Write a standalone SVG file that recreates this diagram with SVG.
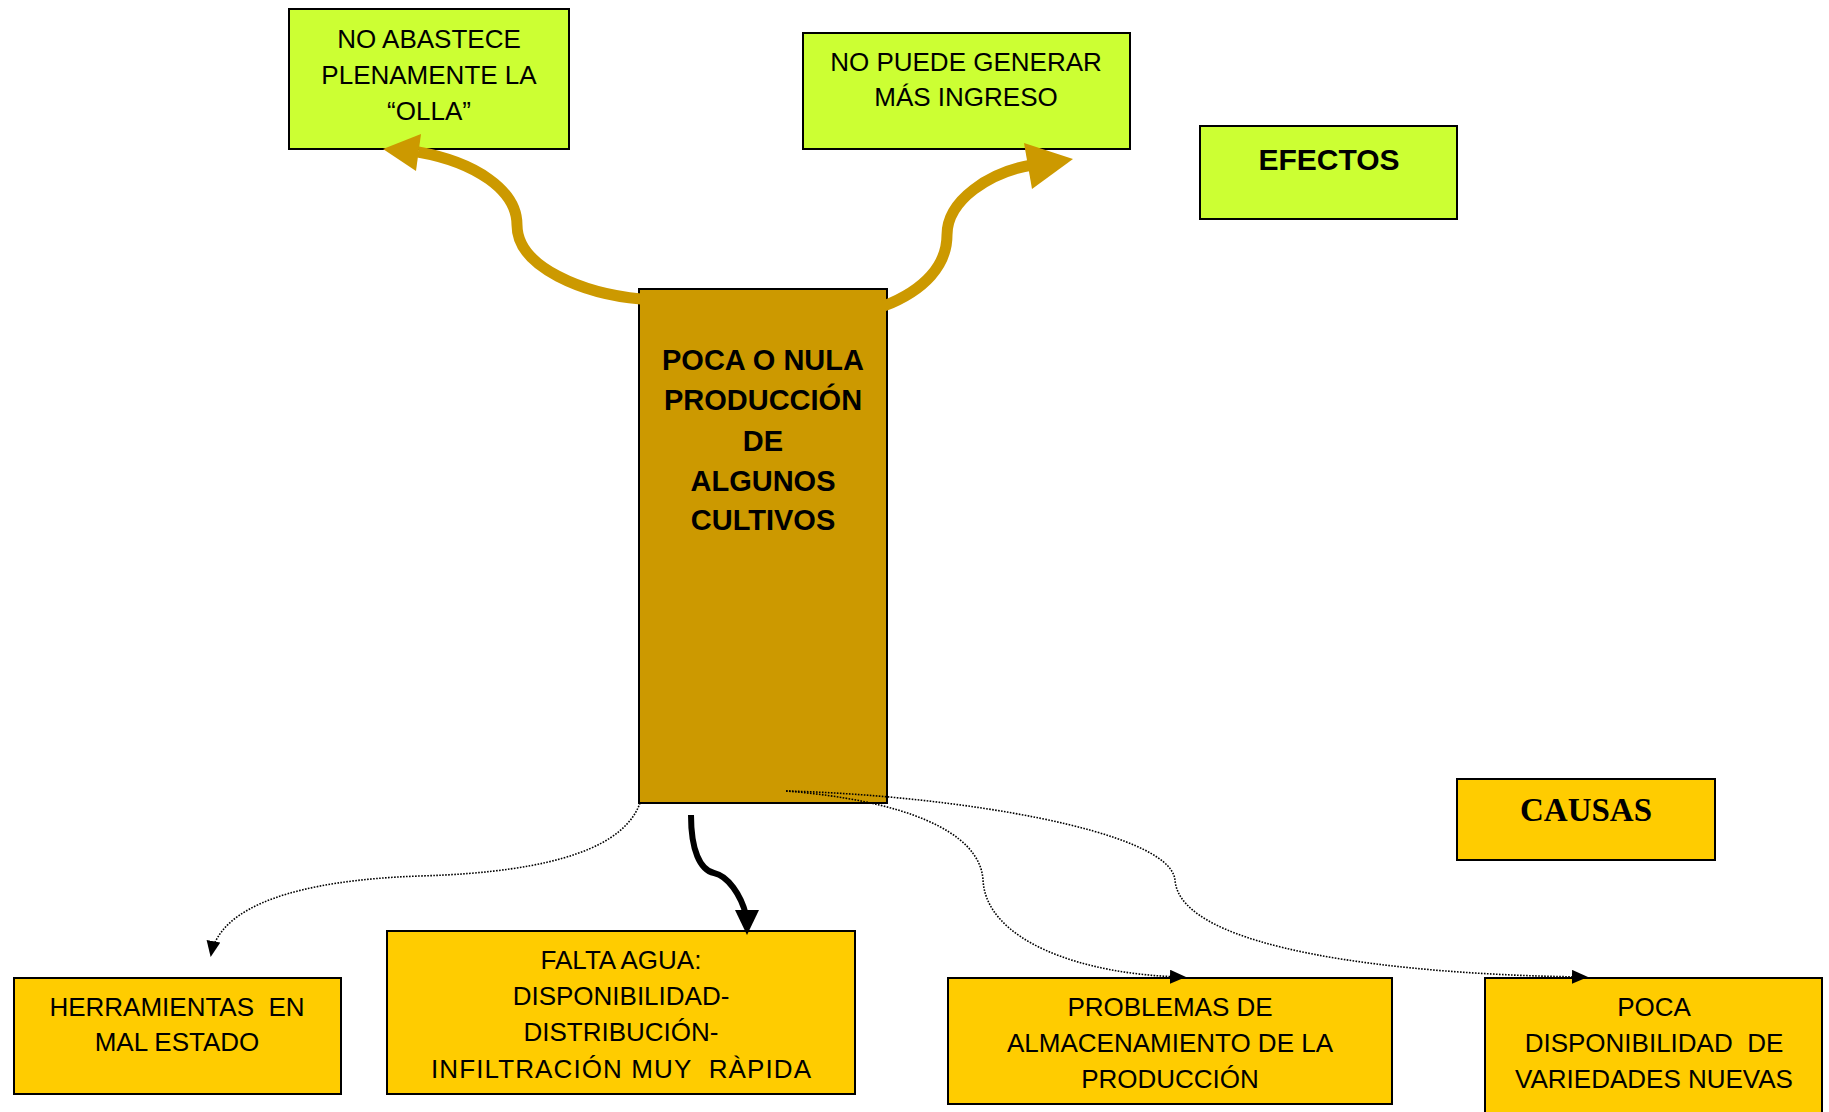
<svg xmlns="http://www.w3.org/2000/svg" width="1829" height="1112" viewBox="0 0 1829 1112">
<style>
.box{stroke:#000;stroke-width:2}
.eff{fill:#CCFF33}
.cau{fill:#FFCC00}
.main{fill:#CC9900}
.t{font-family:"Liberation Sans",Arial,sans-serif;font-size:26px;fill:#000;text-anchor:middle;white-space:pre}
.tb{font-family:"Liberation Sans",Arial,sans-serif;font-size:29px;font-weight:bold;fill:#000;text-anchor:middle;white-space:pre}
.ts{font-family:"Liberation Serif","Times New Roman",serif;font-size:33px;font-weight:bold;fill:#000;text-anchor:middle}
.dot{fill:none;stroke:#000;stroke-width:1.6;stroke-dasharray:1.6 1.4}
.gold{fill:none;stroke:#CC9900;stroke-width:11}
</style>
<defs>
<marker id="ah" markerUnits="userSpaceOnUse" markerWidth="16" markerHeight="14" refX="14" refY="7" orient="auto">
<path d="M0,0 L16,7 L0,14 Z" fill="#000"/>
</marker>
</defs>
<rect width="1829" height="1112" fill="#fff"/>
<g id="efecto-olla">
<rect class="box eff" x="289" y="9" width="280" height="140"/>
<text class="t" x="429" y="48">NO ABASTECE</text>
<text class="t" x="429" y="84">PLENAMENTE LA</text>
<text class="t" x="429" y="120">“OLLA”</text>
</g>
<g id="efecto-ingreso">
<rect class="box eff" x="803" y="33" width="327" height="116"/>
<text class="t" x="966" y="71">NO PUEDE GENERAR</text>
<text class="t" x="966" y="106">MÁS INGRESO</text>
</g>
<g id="efectos">
<rect class="box eff" x="1200" y="126" width="257" height="93"/>
<text class="tb" x="1329" y="170" style="font-size:30px">EFECTOS</text>
</g>
<g id="problema">
<rect class="box main" x="639" y="289" width="248" height="514"/>
<text class="tb" x="763" y="370">POCA O NULA</text>
<text class="tb" x="763" y="410">PRODUCCIÓN</text>
<text class="tb" x="763" y="451">DE</text>
<text class="tb" x="763" y="491">ALGUNOS</text>
<text class="tb" x="763" y="530">CULTIVOS</text>
</g>
<g id="causas">
<rect class="box cau" x="1457" y="779" width="258" height="81"/>
<text class="ts" x="1586" y="821">CAUSAS</text>
</g>
<g id="causa-herramientas">
<rect class="box cau" x="14" y="978" width="327" height="116"/>
<text class="t" x="177" y="1016">HERRAMIENTAS  EN</text>
<text class="t" x="177" y="1051">MAL ESTADO</text>
</g>
<g id="causa-agua">
<rect class="box cau" x="387" y="931" width="468" height="163"/>
<text class="t" x="621" y="969">FALTA AGUA:</text>
<text class="t" x="621" y="1005">DISPONIBILIDAD-</text>
<text class="t" x="621" y="1041">DISTRIBUCIÓN-</text>
<text class="t" x="621" y="1078" textLength="380" lengthAdjust="spacing">INFILTRACIÓN MUY  RÀPIDA</text>
</g>
<g id="causa-almacenamiento">
<rect class="box cau" x="948" y="978" width="444" height="126"/>
<text class="t" x="1170" y="1016">PROBLEMAS DE</text>
<text class="t" x="1170" y="1052">ALMACENAMIENTO DE LA</text>
<text class="t" x="1170" y="1088">PRODUCCIÓN</text>
</g>
<g id="causa-variedades">
<rect class="box cau" x="1485" y="978" width="337" height="140"/>
<text class="t" x="1654" y="1016">POCA</text>
<text class="t" x="1654" y="1052">DISPONIBILIDAD  DE</text>
<text class="t" x="1654" y="1088">VARIEDADES NUEVAS</text>
</g>
<g id="connectors">
<path class="gold" d="M641,299 C585,294 517,268 517,225 C517,190 475,162 418,152"/>
<polygon points="383,149 421,134 416,171" fill="#CC9900"/>
<path class="gold" d="M884,306 C925,290 947,265 947,235 C947,200 990,172 1032,165"/>
<polygon points="1073,159 1024,143 1032,189" fill="#CC9900"/>
<path d="M691,815 C691,850 700,870 714,873 C728,876 741,895 746,915" fill="none" stroke="#000" stroke-width="6"/>
<polygon points="747,935 735,910 759,910" fill="#000"/>
<path class="dot" d="M640,803 C625,845 560,872 420,876 C300,880 220,905 211,955" marker-end="url(#ah)"/>
<path class="dot" d="M786,791 C900,800 980,830 983,880 C986,940 1080,975 1184,977" marker-end="url(#ah)"/>
<path class="dot" d="M786,791 C950,795 1170,830 1175,880 C1180,950 1400,975 1586,977" marker-end="url(#ah)"/>
</g>
</svg>
